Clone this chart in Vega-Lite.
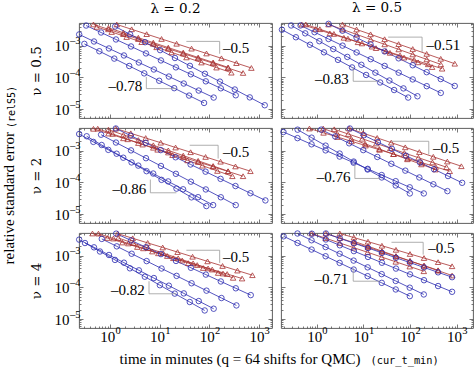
{
"$schema": "https://vega.github.io/schema/vega-lite/v6.json",
"padding": {"left": 0, "top": 0, "right": 0, "bottom": 0},
"background": "white",
"config": {
 "view": {"stroke": "#4d4d4d", "strokeWidth": 0.9},
 "axis": {"domain": false, "grid": false, "tickColor": "#555555", "tickWidth": 0.8, "labelFont": "Liberation Serif", "labelFontSize": 15, "labelColor": "#000000", "labelOverlap": false, "labelFlush": false, "titleFont": "Liberation Serif", "titleFontSize": 15, "titleFontWeight": "normal", "titleColor": "#000000"},
 "title": {"font": "DejaVu Serif", "fontSize": 13.5, "fontWeight": "normal", "color": "#000000", "offset": 5}
},
"datasets": {
"pts": [
{"p":1,"s":"M1","t":1.37,"e":4.78e-3},{"p":1,"s":"M1","t":2.73,"e":3.36e-3},{"p":1,"s":"M1","t":5.47,"e":2.36e-3},{"p":1,"s":"M1","t":10.9,"e":1.66e-3},{"p":1,"s":"M1","t":21.9,"e":1.17e-3},{"p":1,"s":"M1","t":43.8,"e":8.2e-4},{"p":1,"s":"M1","t":87.5,"e":5.76e-4},{"p":1,"s":"M1","t":175,"e":4.05e-4},{"p":1,"s":"M1","t":350,"e":2.85e-4},{"p":1,"s":"M1","t":700,"e":2.0e-4},
{"p":1,"s":"M2","t":0.465,"e":4.79e-3},{"p":1,"s":"M2","t":0.93,"e":3.36e-3},{"p":1,"s":"M2","t":1.86,"e":2.36e-3},{"p":1,"s":"M2","t":3.72,"e":1.65e-3},{"p":1,"s":"M2","t":7.44,"e":1.16e-3},{"p":1,"s":"M2","t":14.9,"e":8.15e-4},{"p":1,"s":"M2","t":29.8,"e":5.72e-4},{"p":1,"s":"M2","t":59.5,"e":4.02e-4},{"p":1,"s":"M2","t":119,"e":2.82e-4},{"p":1,"s":"M2","t":238,"e":1.98e-4},{"p":1,"s":"M2","t":476,"e":1.39e-4},
{"p":1,"s":"M3","t":0.54,"e":4.0e-3},{"p":1,"s":"M3","t":1.08,"e":2.76e-3},{"p":1,"s":"M3","t":2.16,"e":1.91e-3},{"p":1,"s":"M3","t":4.33,"e":1.32e-3},{"p":1,"s":"M3","t":8.66,"e":9.07e-4},{"p":1,"s":"M3","t":17.3,"e":6.26e-4},{"p":1,"s":"M3","t":34.6,"e":4.32e-4},{"p":1,"s":"M3","t":69.3,"e":2.98e-4},{"p":1,"s":"M3","t":139,"e":2.06e-4},{"p":1,"s":"M3","t":277,"e":1.42e-4},
{"p":1,"s":"M4","t":0.93,"e":3.74e-3},{"p":1,"s":"M4","t":1.86,"e":2.61e-3},{"p":1,"s":"M4","t":3.72,"e":1.82e-3},{"p":1,"s":"M4","t":7.44,"e":1.27e-3},{"p":1,"s":"M4","t":14.9,"e":8.84e-4},{"p":1,"s":"M4","t":29.8,"e":6.16e-4},{"p":1,"s":"M4","t":59.5,"e":4.3e-4},{"p":1,"s":"M4","t":119,"e":3.0e-4},{"p":1,"s":"M4","t":238,"e":2.09e-4},
{"p":1,"s":"Q1","t":1.27,"e":4.12e-3},{"p":1,"s":"Q1","t":2.54,"e":2.32e-3},{"p":1,"s":"Q1","t":5.08,"e":1.31e-3},{"p":1,"s":"Q1","t":10.2,"e":7.36e-4},{"p":1,"s":"Q1","t":20.3,"e":4.14e-4},{"p":1,"s":"Q1","t":40.6,"e":2.33e-4},{"p":1,"s":"Q1","t":81.3,"e":1.31e-4},{"p":1,"s":"Q1","t":163,"e":7.39e-5},{"p":1,"s":"Q1","t":325,"e":4.16e-5},{"p":1,"s":"Q1","t":650,"e":2.34e-5},{"p":1,"s":"Q1","t":1300,"e":1.32e-5},
{"p":1,"s":"Q2","t":0.331,"e":4.42e-3},{"p":1,"s":"Q2","t":0.662,"e":2.66e-3},{"p":1,"s":"Q2","t":1.32,"e":1.6e-3},{"p":1,"s":"Q2","t":2.65,"e":9.61e-4},{"p":1,"s":"Q2","t":5.3,"e":5.78e-4},{"p":1,"s":"Q2","t":10.6,"e":3.47e-4},{"p":1,"s":"Q2","t":21.2,"e":2.09e-4},{"p":1,"s":"Q2","t":42.4,"e":1.26e-4},{"p":1,"s":"Q2","t":84.8,"e":7.55e-5},{"p":1,"s":"Q2","t":170,"e":4.54e-5},{"p":1,"s":"Q2","t":339,"e":2.73e-5},
{"p":1,"s":"Q3","t":0.24,"e":2.31e-3},{"p":1,"s":"Q3","t":0.477,"e":1.38e-3},{"p":1,"s":"Q3","t":0.953,"e":8.3e-4},{"p":1,"s":"Q3","t":1.91,"e":4.98e-4},{"p":1,"s":"Q3","t":3.81,"e":2.98e-4},{"p":1,"s":"Q3","t":7.63,"e":1.79e-4},{"p":1,"s":"Q3","t":15.3,"e":1.07e-4},{"p":1,"s":"Q3","t":30.5,"e":6.43e-5},{"p":1,"s":"Q3","t":61,"e":3.85e-5},{"p":1,"s":"Q3","t":122,"e":2.31e-5},
{"p":1,"s":"Q4","t":0.305,"e":1.16e-3},{"p":1,"s":"Q4","t":0.611,"e":6.78e-4},{"p":1,"s":"Q4","t":1.22,"e":3.96e-4},{"p":1,"s":"Q4","t":2.44,"e":2.31e-4},{"p":1,"s":"Q4","t":4.89,"e":1.35e-4},{"p":1,"s":"Q4","t":9.78,"e":7.86e-5},{"p":1,"s":"Q4","t":19.6,"e":4.58e-5},{"p":1,"s":"Q4","t":39.1,"e":2.67e-5},{"p":1,"s":"Q4","t":78.2,"e":1.56e-5},

{"p":2,"s":"M1","t":3.55,"e":4.75e-3},{"p":2,"s":"M1","t":7.1,"e":3.32e-3},{"p":2,"s":"M1","t":14.2,"e":2.33e-3},{"p":2,"s":"M1","t":28.4,"e":1.63e-3},{"p":2,"s":"M1","t":56.8,"e":1.14e-3},{"p":2,"s":"M1","t":114,"e":7.97e-4},{"p":2,"s":"M1","t":227,"e":5.58e-4},{"p":2,"s":"M1","t":455,"e":3.9e-4},{"p":2,"s":"M1","t":909,"e":2.73e-4},
{"p":2,"s":"M2","t":0.476,"e":4.76e-3},{"p":2,"s":"M2","t":0.951,"e":3.45e-3},{"p":2,"s":"M2","t":1.9,"e":2.5e-3},{"p":2,"s":"M2","t":3.8,"e":1.81e-3},{"p":2,"s":"M2","t":7.61,"e":1.31e-3},{"p":2,"s":"M2","t":15.2,"e":9.51e-4},{"p":2,"s":"M2","t":30.4,"e":6.89e-4},{"p":2,"s":"M2","t":60.9,"e":4.99e-4},{"p":2,"s":"M2","t":122,"e":3.62e-4},{"p":2,"s":"M2","t":244,"e":2.62e-4},{"p":2,"s":"M2","t":487,"e":1.9e-4},
{"p":2,"s":"M3","t":0.58,"e":4.78e-3},{"p":2,"s":"M3","t":1.16,"e":3.38e-3},{"p":2,"s":"M3","t":2.32,"e":2.4e-3},{"p":2,"s":"M3","t":4.64,"e":1.7e-3},{"p":2,"s":"M3","t":9.28,"e":1.2e-3},{"p":2,"s":"M3","t":18.6,"e":8.51e-4},{"p":2,"s":"M3","t":37.1,"e":6.03e-4},{"p":2,"s":"M3","t":74.3,"e":4.27e-4},{"p":2,"s":"M3","t":149,"e":3.02e-4},{"p":2,"s":"M3","t":297,"e":2.14e-4},
{"p":2,"s":"M4","t":1.78,"e":4.78e-3},{"p":2,"s":"M4","t":3.56,"e":3.32e-3},{"p":2,"s":"M4","t":7.13,"e":2.31e-3},{"p":2,"s":"M4","t":14.3,"e":1.6e-3},{"p":2,"s":"M4","t":28.5,"e":1.12e-3},{"p":2,"s":"M4","t":57,"e":7.75e-4},{"p":2,"s":"M4","t":114,"e":5.38e-4},{"p":2,"s":"M4","t":228,"e":3.74e-4},{"p":2,"s":"M4","t":456,"e":2.6e-4},
{"p":2,"s":"Q1","t":1.78,"e":5.01e-3},{"p":2,"s":"Q1","t":3.55,"e":3.03e-3},{"p":2,"s":"Q1","t":7.1,"e":1.83e-3},{"p":2,"s":"Q1","t":14.2,"e":1.11e-3},{"p":2,"s":"Q1","t":28.4,"e":6.68e-4},{"p":2,"s":"Q1","t":56.8,"e":4.04e-4},{"p":2,"s":"Q1","t":114,"e":2.44e-4},{"p":2,"s":"Q1","t":227,"e":1.47e-4},{"p":2,"s":"Q1","t":455,"e":8.9e-5},{"p":2,"s":"Q1","t":909,"e":5.38e-5},
{"p":2,"s":"Q2","t":0.446,"e":4.45e-3},{"p":2,"s":"Q2","t":0.891,"e":2.72e-3},{"p":2,"s":"Q2","t":1.78,"e":1.66e-3},{"p":2,"s":"Q2","t":3.56,"e":1.02e-3},{"p":2,"s":"Q2","t":7.13,"e":6.21e-4},{"p":2,"s":"Q2","t":14.3,"e":3.8e-4},{"p":2,"s":"Q2","t":28.5,"e":2.32e-4},{"p":2,"s":"Q2","t":57,"e":1.42e-4},{"p":2,"s":"Q2","t":114,"e":8.67e-5},{"p":2,"s":"Q2","t":228,"e":5.3e-5},{"p":2,"s":"Q2","t":456,"e":3.24e-5},
{"p":2,"s":"Q3","t":0.281,"e":4.44e-3},{"p":2,"s":"Q3","t":0.563,"e":2.5e-3},{"p":2,"s":"Q3","t":1.13,"e":1.41e-3},{"p":2,"s":"Q3","t":2.25,"e":7.94e-4},{"p":2,"s":"Q3","t":4.5,"e":4.48e-4},{"p":2,"s":"Q3","t":9.01,"e":2.52e-4},{"p":2,"s":"Q3","t":18,"e":1.42e-4},{"p":2,"s":"Q3","t":36,"e":8.0e-5},{"p":2,"s":"Q3","t":72.1,"e":4.51e-5},{"p":2,"s":"Q3","t":144,"e":2.54e-5},
{"p":2,"s":"Q4","t":0.178,"e":3.26e-3},{"p":2,"s":"Q4","t":0.355,"e":1.88e-3},{"p":2,"s":"Q4","t":0.711,"e":1.09e-3},{"p":2,"s":"Q4","t":1.42,"e":6.26e-4},{"p":2,"s":"Q4","t":2.84,"e":3.61e-4},{"p":2,"s":"Q4","t":5.69,"e":2.08e-4},{"p":2,"s":"Q4","t":11.4,"e":1.2e-4},{"p":2,"s":"Q4","t":22.8,"e":6.94e-5},{"p":2,"s":"Q4","t":45.5,"e":4.0e-5},{"p":2,"s":"Q4","t":91,"e":2.31e-5},

{"p":3,"s":"M1","t":1.31,"e":5.12e-3},{"p":3,"s":"M1","t":2.62,"e":3.62e-3},{"p":3,"s":"M1","t":5.23,"e":2.56e-3},{"p":3,"s":"M1","t":10.5,"e":1.82e-3},{"p":3,"s":"M1","t":20.9,"e":1.28e-3},{"p":3,"s":"M1","t":41.9,"e":9.09e-4},{"p":3,"s":"M1","t":83.8,"e":6.43e-4},{"p":3,"s":"M1","t":168,"e":4.55e-4},{"p":3,"s":"M1","t":335,"e":3.22e-4},{"p":3,"s":"M1","t":670,"e":2.28e-4},
{"p":3,"s":"M2","t":0.465,"e":5.01e-3},{"p":3,"s":"M2","t":0.93,"e":3.55e-3},{"p":3,"s":"M2","t":1.86,"e":2.51e-3},{"p":3,"s":"M2","t":3.72,"e":1.78e-3},{"p":3,"s":"M2","t":7.44,"e":1.26e-3},{"p":3,"s":"M2","t":14.9,"e":8.9e-4},{"p":3,"s":"M2","t":29.8,"e":6.3e-4},{"p":3,"s":"M2","t":59.5,"e":4.46e-4},{"p":3,"s":"M2","t":119,"e":3.16e-4},{"p":3,"s":"M2","t":238,"e":2.23e-4},{"p":3,"s":"M2","t":476,"e":1.58e-4},
{"p":3,"s":"M3","t":0.567,"e":5.06e-3},{"p":3,"s":"M3","t":1.13,"e":3.45e-3},{"p":3,"s":"M3","t":2.27,"e":2.34e-3},{"p":3,"s":"M3","t":4.54,"e":1.59e-3},{"p":3,"s":"M3","t":9.07,"e":1.09e-3},{"p":3,"s":"M3","t":18.1,"e":7.38e-4},{"p":3,"s":"M3","t":36.3,"e":5.02e-4},{"p":3,"s":"M3","t":72.6,"e":3.41e-4},{"p":3,"s":"M3","t":145,"e":2.32e-4},{"p":3,"s":"M3","t":290,"e":1.58e-4},
{"p":3,"s":"M4","t":0.93,"e":4.71e-3},{"p":3,"s":"M4","t":1.86,"e":3.23e-3},{"p":3,"s":"M4","t":3.72,"e":2.21e-3},{"p":3,"s":"M4","t":7.44,"e":1.51e-3},{"p":3,"s":"M4","t":14.9,"e":1.04e-3},{"p":3,"s":"M4","t":29.8,"e":7.1e-4},{"p":3,"s":"M4","t":59.5,"e":4.86e-4},{"p":3,"s":"M4","t":119,"e":3.33e-4},{"p":3,"s":"M4","t":238,"e":2.28e-4},
{"p":3,"s":"Q1","t":1.31,"e":5.13e-3},{"p":3,"s":"Q1","t":2.62,"e":3.04e-3},{"p":3,"s":"Q1","t":5.23,"e":1.8e-3},{"p":3,"s":"Q1","t":10.5,"e":1.06e-3},{"p":3,"s":"Q1","t":20.9,"e":6.29e-4},{"p":3,"s":"Q1","t":41.9,"e":3.72e-4},{"p":3,"s":"Q1","t":83.8,"e":2.2e-4},{"p":3,"s":"Q1","t":168,"e":1.3e-4},{"p":3,"s":"Q1","t":335,"e":7.71e-5},{"p":3,"s":"Q1","t":670,"e":4.56e-5},{"p":3,"s":"Q1","t":1340,"e":2.7e-5},
{"p":3,"s":"Q2","t":0.662,"e":3.26e-3},{"p":3,"s":"Q2","t":1.32,"e":1.84e-3},{"p":3,"s":"Q2","t":2.65,"e":1.04e-3},{"p":3,"s":"Q2","t":5.3,"e":5.88e-4},{"p":3,"s":"Q2","t":10.6,"e":3.33e-4},{"p":3,"s":"Q2","t":21.2,"e":1.88e-4},{"p":3,"s":"Q2","t":42.4,"e":1.06e-4},{"p":3,"s":"Q2","t":84.8,"e":6.01e-5},{"p":3,"s":"Q2","t":170,"e":3.4e-5},{"p":3,"s":"Q2","t":339,"e":1.92e-5},
{"p":3,"s":"Q3","t":0.24,"e":3.43e-3},{"p":3,"s":"Q3","t":0.463,"e":1.93e-3},{"p":3,"s":"Q3","t":0.926,"e":1.08e-3},{"p":3,"s":"Q3","t":1.85,"e":6.09e-4},{"p":3,"s":"Q3","t":3.71,"e":3.42e-4},{"p":3,"s":"Q3","t":7.41,"e":1.92e-4},{"p":3,"s":"Q3","t":14.8,"e":1.08e-4},{"p":3,"s":"Q3","t":29.6,"e":6.08e-5},{"p":3,"s":"Q3","t":59.3,"e":3.42e-5},{"p":3,"s":"Q3","t":119,"e":1.92e-5},
{"p":3,"s":"Q4","t":0.34,"e":2.91e-3},{"p":3,"s":"Q4","t":0.68,"e":1.54e-3},{"p":3,"s":"Q4","t":1.36,"e":8.16e-4},{"p":3,"s":"Q4","t":2.72,"e":4.32e-4},{"p":3,"s":"Q4","t":5.44,"e":2.28e-4},{"p":3,"s":"Q4","t":10.9,"e":1.21e-4},{"p":3,"s":"Q4","t":21.8,"e":6.39e-5},{"p":3,"s":"Q4","t":43.6,"e":3.38e-5},{"p":3,"s":"Q4","t":87.1,"e":1.79e-5},

{"p":4,"s":"M1","t":4.93,"e":5.14e-3},{"p":4,"s":"M1","t":9.85,"e":3.64e-3},{"p":4,"s":"M1","t":19.7,"e":2.58e-3},{"p":4,"s":"M1","t":39.4,"e":1.83e-3},{"p":4,"s":"M1","t":78.8,"e":1.3e-3},{"p":4,"s":"M1","t":158,"e":9.19e-4},{"p":4,"s":"M1","t":315,"e":6.51e-4},{"p":4,"s":"M1","t":630,"e":4.61e-4},{"p":4,"s":"M1","t":1260,"e":3.27e-4},
{"p":4,"s":"M2","t":0.693,"e":5.12e-3},{"p":4,"s":"M2","t":1.39,"e":3.75e-3},{"p":4,"s":"M2","t":2.77,"e":2.75e-3},{"p":4,"s":"M2","t":5.55,"e":2.01e-3},{"p":4,"s":"M2","t":11.1,"e":1.48e-3},{"p":4,"s":"M2","t":22.2,"e":1.08e-3},{"p":4,"s":"M2","t":44.4,"e":7.92e-4},{"p":4,"s":"M2","t":88.8,"e":5.8e-4},{"p":4,"s":"M2","t":178,"e":4.25e-4},{"p":4,"s":"M2","t":355,"e":3.11e-4},{"p":4,"s":"M2","t":710,"e":2.28e-4},
{"p":4,"s":"M3","t":1.37,"e":5.13e-3},{"p":4,"s":"M3","t":2.73,"e":3.53e-3},{"p":4,"s":"M3","t":5.47,"e":2.43e-3},{"p":4,"s":"M3","t":10.9,"e":1.67e-3},{"p":4,"s":"M3","t":21.9,"e":1.15e-3},{"p":4,"s":"M3","t":43.8,"e":7.9e-4},{"p":4,"s":"M3","t":87.5,"e":5.43e-4},{"p":4,"s":"M3","t":175,"e":3.74e-4},{"p":4,"s":"M3","t":350,"e":2.57e-4},
{"p":4,"s":"M4","t":2.36,"e":4.85e-3},{"p":4,"s":"M4","t":4.71,"e":3.43e-3},{"p":4,"s":"M4","t":9.42,"e":2.43e-3},{"p":4,"s":"M4","t":18.8,"e":1.72e-3},{"p":4,"s":"M4","t":37.7,"e":1.22e-3},{"p":4,"s":"M4","t":75.4,"e":8.61e-4},{"p":4,"s":"M4","t":151,"e":6.09e-4},{"p":4,"s":"M4","t":302,"e":4.31e-4},{"p":4,"s":"M4","t":603,"e":3.05e-4},
{"p":4,"s":"Q1","t":5.1,"e":5.13e-3},{"p":4,"s":"Q1","t":10.2,"e":3.13e-3},{"p":4,"s":"Q1","t":20.4,"e":1.9e-3},{"p":4,"s":"Q1","t":40.8,"e":1.16e-3},{"p":4,"s":"Q1","t":81.7,"e":7.07e-4},{"p":4,"s":"Q1","t":163,"e":4.31e-4},{"p":4,"s":"Q1","t":327,"e":2.63e-4},{"p":4,"s":"Q1","t":653,"e":1.6e-4},{"p":4,"s":"Q1","t":1310,"e":9.75e-5},
{"p":4,"s":"Q2","t":1.24,"e":4.72e-3},{"p":4,"s":"Q2","t":2.47,"e":2.87e-3},{"p":4,"s":"Q2","t":4.94,"e":1.74e-3},{"p":4,"s":"Q2","t":9.89,"e":1.06e-3},{"p":4,"s":"Q2","t":19.8,"e":6.43e-4},{"p":4,"s":"Q2","t":39.6,"e":3.91e-4},{"p":4,"s":"Q2","t":79.1,"e":2.37e-4},{"p":4,"s":"Q2","t":158,"e":1.44e-4},{"p":4,"s":"Q2","t":316,"e":8.76e-5},{"p":4,"s":"Q2","t":633,"e":5.32e-5},
{"p":4,"s":"Q3","t":0.192,"e":3.98e-3},{"p":4,"s":"Q3","t":0.384,"e":2.54e-3},{"p":4,"s":"Q3","t":0.769,"e":1.62e-3},{"p":4,"s":"Q3","t":1.54,"e":1.04e-3},{"p":4,"s":"Q3","t":3.08,"e":6.62e-4},{"p":4,"s":"Q3","t":6.15,"e":4.23e-4},{"p":4,"s":"Q3","t":12.3,"e":2.7e-4},{"p":4,"s":"Q3","t":24.6,"e":1.72e-4},{"p":4,"s":"Q3","t":49.2,"e":1.1e-4},{"p":4,"s":"Q3","t":98.4,"e":7.03e-5},{"p":4,"s":"Q3","t":197,"e":4.49e-5},
{"p":4,"s":"Q4","t":0.386,"e":4.71e-3},{"p":4,"s":"Q4","t":0.771,"e":2.63e-3},{"p":4,"s":"Q4","t":1.54,"e":1.47e-3},{"p":4,"s":"Q4","t":3.08,"e":8.23e-4},{"p":4,"s":"Q4","t":6.17,"e":4.6e-4},{"p":4,"s":"Q4","t":12.3,"e":2.57e-4},{"p":4,"s":"Q4","t":24.7,"e":1.44e-4},{"p":4,"s":"Q4","t":49.3,"e":8.03e-5},{"p":4,"s":"Q4","t":98.7,"e":4.49e-5},

{"p":5,"s":"M1","t":1.43,"e":5.06e-3},{"p":5,"s":"M1","t":2.87,"e":3.62e-3},{"p":5,"s":"M1","t":5.73,"e":2.58e-3},{"p":5,"s":"M1","t":11.5,"e":1.85e-3},{"p":5,"s":"M1","t":22.9,"e":1.32e-3},{"p":5,"s":"M1","t":45.9,"e":9.41e-4},{"p":5,"s":"M1","t":91.8,"e":6.72e-4},{"p":5,"s":"M1","t":184,"e":4.8e-4},{"p":5,"s":"M1","t":367,"e":3.43e-4},{"p":5,"s":"M1","t":734,"e":2.45e-4},
{"p":5,"s":"M2","t":0.444,"e":5.13e-3},{"p":5,"s":"M2","t":0.889,"e":3.7e-3},{"p":5,"s":"M2","t":1.78,"e":2.66e-3},{"p":5,"s":"M2","t":3.55,"e":1.92e-3},{"p":5,"s":"M2","t":7.11,"e":1.38e-3},{"p":5,"s":"M2","t":14.2,"e":9.93e-4},{"p":5,"s":"M2","t":28.4,"e":7.15e-4},{"p":5,"s":"M2","t":56.9,"e":5.14e-4},{"p":5,"s":"M2","t":114,"e":3.7e-4},{"p":5,"s":"M2","t":228,"e":2.67e-4},{"p":5,"s":"M2","t":455,"e":1.92e-4},
{"p":5,"s":"M3","t":0.586,"e":5.08e-3},{"p":5,"s":"M3","t":1.17,"e":3.55e-3},{"p":5,"s":"M3","t":2.34,"e":2.48e-3},{"p":5,"s":"M3","t":4.69,"e":1.74e-3},{"p":5,"s":"M3","t":9.38,"e":1.21e-3},{"p":5,"s":"M3","t":18.8,"e":8.47e-4},{"p":5,"s":"M3","t":37.5,"e":5.92e-4},{"p":5,"s":"M3","t":75,"e":4.14e-4},{"p":5,"s":"M3","t":150,"e":2.89e-4},{"p":5,"s":"M3","t":300,"e":2.02e-4},
{"p":5,"s":"M4","t":1.47,"e":3.7e-3},{"p":5,"s":"M4","t":2.94,"e":2.55e-3},{"p":5,"s":"M4","t":5.89,"e":1.76e-3},{"p":5,"s":"M4","t":11.8,"e":1.22e-3},{"p":5,"s":"M4","t":23.6,"e":8.41e-4},{"p":5,"s":"M4","t":47.1,"e":5.81e-4},{"p":5,"s":"M4","t":94.2,"e":4.01e-4},{"p":5,"s":"M4","t":188,"e":2.77e-4},
{"p":5,"s":"Q1","t":1.33,"e":5.08e-3},{"p":5,"s":"Q1","t":2.66,"e":3.09e-3},{"p":5,"s":"Q1","t":5.31,"e":1.88e-3},{"p":5,"s":"Q1","t":10.6,"e":1.14e-3},{"p":5,"s":"Q1","t":21.3,"e":6.92e-4},{"p":5,"s":"Q1","t":42.5,"e":4.21e-4},{"p":5,"s":"Q1","t":85,"e":2.56e-4},{"p":5,"s":"Q1","t":170,"e":1.55e-4},{"p":5,"s":"Q1","t":340,"e":9.43e-5},{"p":5,"s":"Q1","t":680,"e":5.73e-5},
{"p":5,"s":"Q2","t":0.684,"e":3.45e-3},{"p":5,"s":"Q2","t":1.37,"e":2.01e-3},{"p":5,"s":"Q2","t":2.73,"e":1.17e-3},{"p":5,"s":"Q2","t":5.47,"e":6.85e-4},{"p":5,"s":"Q2","t":10.9,"e":3.99e-4},{"p":5,"s":"Q2","t":21.9,"e":2.33e-4},{"p":5,"s":"Q2","t":43.8,"e":1.36e-4},{"p":5,"s":"Q2","t":87.5,"e":7.93e-5},{"p":5,"s":"Q2","t":175,"e":4.63e-5},{"p":5,"s":"Q2","t":350,"e":2.7e-5},
{"p":5,"s":"Q3","t":0.24,"e":3.28e-3},{"p":5,"s":"Q3","t":0.477,"e":1.87e-3},{"p":5,"s":"Q3","t":0.955,"e":1.07e-3},{"p":5,"s":"Q3","t":1.91,"e":6.11e-4},{"p":5,"s":"Q3","t":3.82,"e":3.49e-4},{"p":5,"s":"Q3","t":7.64,"e":1.99e-4},{"p":5,"s":"Q3","t":15.3,"e":1.14e-4},{"p":5,"s":"Q3","t":30.6,"e":6.5e-5},{"p":5,"s":"Q3","t":61.1,"e":3.71e-5},{"p":5,"s":"Q3","t":122,"e":2.12e-5},
{"p":5,"s":"Q4","t":0.314,"e":2.56e-3},{"p":5,"s":"Q4","t":0.629,"e":1.38e-3},{"p":5,"s":"Q4","t":1.26,"e":7.47e-4},{"p":5,"s":"Q4","t":2.52,"e":4.04e-4},{"p":5,"s":"Q4","t":5.03,"e":2.19e-4},{"p":5,"s":"Q4","t":10.1,"e":1.18e-4},{"p":5,"s":"Q4","t":20.1,"e":6.39e-5},{"p":5,"s":"Q4","t":40.3,"e":3.46e-5},{"p":5,"s":"Q4","t":80.5,"e":1.87e-5},

{"p":6,"s":"M1","t":3.11,"e":5.14e-3},{"p":6,"s":"M1","t":6.23,"e":3.81e-3},{"p":6,"s":"M1","t":12.5,"e":2.83e-3},{"p":6,"s":"M1","t":24.9,"e":2.1e-3},{"p":6,"s":"M1","t":49.8,"e":1.56e-3},{"p":6,"s":"M1","t":99.6,"e":1.15e-3},{"p":6,"s":"M1","t":199,"e":8.56e-4},{"p":6,"s":"M1","t":399,"e":6.35e-4},{"p":6,"s":"M1","t":797,"e":4.71e-4},
{"p":6,"s":"M2","t":1.56,"e":5.14e-3},{"p":6,"s":"M2","t":3.12,"e":3.67e-3},{"p":6,"s":"M2","t":6.24,"e":2.63e-3},{"p":6,"s":"M2","t":12.5,"e":1.88e-3},{"p":6,"s":"M2","t":25,"e":1.35e-3},{"p":6,"s":"M2","t":49.9,"e":9.62e-4},{"p":6,"s":"M2","t":99.8,"e":6.88e-4},{"p":6,"s":"M2","t":200,"e":4.92e-4},{"p":6,"s":"M2","t":399,"e":3.52e-4},
{"p":6,"s":"M3","t":0.769,"e":5.14e-3},{"p":6,"s":"M3","t":1.54,"e":3.64e-3},{"p":6,"s":"M3","t":3.08,"e":2.58e-3},{"p":6,"s":"M3","t":6.15,"e":1.83e-3},{"p":6,"s":"M3","t":12.3,"e":1.3e-3},{"p":6,"s":"M3","t":24.6,"e":9.19e-4},{"p":6,"s":"M3","t":49.2,"e":6.51e-4},{"p":6,"s":"M3","t":98.4,"e":4.61e-4},{"p":6,"s":"M3","t":197,"e":3.27e-4},
{"p":6,"s":"M4","t":6.23,"e":2.9e-3},{"p":6,"s":"M4","t":12.5,"e":2.03e-3},{"p":6,"s":"M4","t":24.9,"e":1.42e-3},{"p":6,"s":"M4","t":49.8,"e":9.94e-4},{"p":6,"s":"M4","t":99.6,"e":6.96e-4},{"p":6,"s":"M4","t":199,"e":4.87e-4},{"p":6,"s":"M4","t":399,"e":3.41e-4},{"p":6,"s":"M4","t":797,"e":2.39e-4},
{"p":6,"s":"Q1","t":1.56,"e":5.14e-3},{"p":6,"s":"Q1","t":3.11,"e":3.6e-3},{"p":6,"s":"Q1","t":6.23,"e":2.53e-3},{"p":6,"s":"Q1","t":12.5,"e":1.78e-3},{"p":6,"s":"Q1","t":24.9,"e":1.25e-3},{"p":6,"s":"Q1","t":49.8,"e":8.74e-4},{"p":6,"s":"Q1","t":99.6,"e":6.13e-4},{"p":6,"s":"Q1","t":199,"e":4.31e-4},{"p":6,"s":"Q1","t":399,"e":3.02e-4},{"p":6,"s":"Q1","t":797,"e":2.12e-4},
{"p":6,"s":"Q2","t":0.778,"e":5.06e-3},{"p":6,"s":"Q2","t":1.56,"e":3.31e-3},{"p":6,"s":"Q2","t":3.11,"e":2.17e-3},{"p":6,"s":"Q2","t":6.23,"e":1.42e-3},{"p":6,"s":"Q2","t":12.5,"e":9.28e-4},{"p":6,"s":"Q2","t":24.9,"e":6.07e-4},{"p":6,"s":"Q2","t":49.8,"e":3.97e-4},{"p":6,"s":"Q2","t":99.6,"e":2.6e-4},{"p":6,"s":"Q2","t":199,"e":1.7e-4},{"p":6,"s":"Q2","t":399,"e":1.11e-4},{"p":6,"s":"Q2","t":797,"e":7.29e-5},
{"p":6,"s":"Q3","t":0.384,"e":5.13e-3},{"p":6,"s":"Q3","t":0.769,"e":3.13e-3},{"p":6,"s":"Q3","t":1.54,"e":1.91e-3},{"p":6,"s":"Q3","t":3.08,"e":1.17e-3},{"p":6,"s":"Q3","t":6.15,"e":7.11e-4},{"p":6,"s":"Q3","t":12.3,"e":4.34e-4},{"p":6,"s":"Q3","t":24.6,"e":2.65e-4},{"p":6,"s":"Q3","t":49.2,"e":1.61e-4},{"p":6,"s":"Q3","t":98.4,"e":9.85e-5},{"p":6,"s":"Q3","t":197,"e":6.01e-5},
{"p":6,"s":"Q4","t":0.193,"e":4.18e-3},{"p":6,"s":"Q4","t":0.386,"e":2.57e-3},{"p":6,"s":"Q4","t":0.771,"e":1.59e-3},{"p":6,"s":"Q4","t":1.54,"e":9.76e-4},{"p":6,"s":"Q4","t":3.08,"e":6.01e-4},{"p":6,"s":"Q4","t":6.17,"e":3.7e-4},{"p":6,"s":"Q4","t":12.3,"e":2.28e-4},{"p":6,"s":"Q4","t":24.7,"e":1.4e-4},{"p":6,"s":"Q4","t":49.3,"e":8.64e-5},{"p":6,"s":"Q4","t":98.7,"e":5.32e-5}
],
"slopes": [
{"p":1,"t":34.4,"t2":161,"e":1.39e-3,"e2":1.39e-3},{"p":1,"t":161,"t2":161,"e":1.39e-3,"e2":5.65e-4},
{"p":1,"t":5.39,"t2":5.39,"e":1.04e-4,"e2":4.44e-5},{"p":1,"t":5.39,"t2":21.7,"e":4.44e-5,"e2":4.44e-5},
{"p":2,"t":33.9,"t2":181,"e":1.9e-3,"e2":1.9e-3},{"p":2,"t":181,"t2":181,"e":1.9e-3,"e2":6.38e-4},
{"p":2,"t":6.03,"t2":6.03,"e":2.14e-4,"e2":7.57e-5},{"p":2,"t":6.03,"t2":20.7,"e":7.57e-5,"e2":7.57e-5},
{"p":3,"t":40.2,"t2":150,"e":1.51e-3,"e2":1.51e-3},{"p":3,"t":150,"t2":150,"e":1.51e-3,"e2":5.73e-4},
{"p":3,"t":6.49,"t2":6.49,"e":1.24e-4,"e2":4.71e-5},{"p":3,"t":6.49,"t2":21.7,"e":4.71e-5,"e2":4.71e-5},
{"p":4,"t":39.9,"t2":252,"e":2.02e-3,"e2":2.02e-3},{"p":4,"t":252,"t2":252,"e":2.02e-3,"e2":7.66e-4},
{"p":4,"t":6.54,"t2":6.54,"e":3.7e-4,"e2":1.34e-4},{"p":4,"t":6.54,"t2":22.5,"e":1.34e-4,"e2":1.34e-4},
{"p":5,"t":34.4,"t2":161,"e":1.51e-3,"e2":1.51e-3},{"p":5,"t":161,"t2":161,"e":1.51e-3,"e2":6.01e-4},
{"p":5,"t":6.1,"t2":6.1,"e":1.58e-4,"e2":6.31e-5},{"p":5,"t":6.1,"t2":21.7,"e":6.31e-5,"e2":6.31e-5},
{"p":6,"t":39.9,"t2":191,"e":2.7e-3,"e2":2.7e-3},{"p":6,"t":191,"t2":191,"e":2.7e-3,"e2":1.1e-3},
{"p":6,"t":6.03,"t2":6.03,"e":4.18e-4,"e2":1.58e-4},{"p":6,"t":6.03,"t2":22.5,"e":1.58e-4,"e2":1.58e-4}
],
"labels": [
{"p":1,"k":"M","t":188,"e":8.85e-4,"lab":"–0.5"},{"p":1,"k":"Q","t":4.48,"e":5.38e-5,"lab":"–0.78"},
{"p":2,"k":"M","t":224,"e":1.1e-3,"lab":"–0.51"},{"p":2,"k":"Q","t":4.86,"e":9.18e-5,"lab":"–0.83"},
{"p":3,"k":"M","t":188,"e":9.3e-4,"lab":"–0.5"},{"p":3,"k":"Q","t":5.39,"e":6.31e-5,"lab":"–0.86"},
{"p":4,"k":"M","t":312,"e":1.24e-3,"lab":"–0.5"},{"p":4,"k":"Q","t":5.28,"e":1.47e-4,"lab":"–0.76"},
{"p":5,"k":"M","t":188,"e":9.53e-4,"lab":"–0.5"},{"p":5,"k":"Q","t":4.99,"e":8.04e-5,"lab":"–0.82"},
{"p":6,"k":"M","t":244,"e":1.74e-3,"lab":"–0.5"},{"p":6,"k":"Q","t":4.71,"e":1.79e-4,"lab":"–0.71"}
]
},
"columns": 2,
"bounds": "flush",
"spacing": {"row": 10, "column": 9},
"concat": [
{"width": 193, "height": 95, "title": {"text": "λ = 0.2"},
 "layer": [
  {"data": {"name": "pts"}, "transform": [{"filter": "datum.p==1"}], "mark": {"type": "line", "strokeWidth": 0.8},
   "encoding": {
    "x": {"field": "t", "type": "quantitative", "scale": {"type": "log", "domain": [0.238, 1820], "nice": false}, "axis": {"orient": "bottom", "values": [1, 10, 100, 1000], "tickSize": -4, "labels": false, "title": null}},
    "y": {"field": "e", "type": "quantitative", "scale": {"type": "log", "domain": [5.2e-6, 5.32e-3], "nice": false}, "axis": {"orient": "left", "values": [1e-5, 1e-4, 1e-3], "tickSize": -4, "labelPadding": 14, "labelExpr": "'10'", "title": "ν = 0.5", "titleFont": "DejaVu Serif", "titleFontSize": 13.5, "titleX": -36}},
    "color": {"field": "s", "type": "nominal", "scale": {"domain": ["M1","M2","M3","M4","Q1","Q2","Q3","Q4"], "range": ["#a83232","#a83232","#a83232","#a83232","#2a2ab0","#2a2ab0","#2a2ab0","#2a2ab0"]}, "legend": null}}},
  {"data": {"name": "pts"}, "transform": [{"filter": "datum.p==1"}], "mark": {"type": "point", "filled": false, "size": 30, "strokeWidth": 0.8, "opacity": 1},
   "encoding": {
    "x": {"field": "t", "type": "quantitative", "axis": {"orient": "top", "values": [1, 10, 100, 1000], "tickSize": -4, "labels": false, "title": null}},
    "y": {"field": "e", "type": "quantitative", "axis": {"orient": "right", "values": [1e-5, 1e-4, 1e-3], "tickSize": -4, "labels": false, "title": null}},
    "color": {"field": "s", "type": "nominal", "legend": null},
    "shape": {"field": "s", "type": "nominal", "scale": {"domain": ["M1","M2","M3","M4","Q1","Q2","Q3","Q4"], "range": ["triangle-up","triangle-up","triangle-up","triangle-up","circle","circle","circle","circle"]}, "legend": null}}},
  {"data": {"name": "slopes"}, "transform": [{"filter": "datum.p==1"}], "mark": {"type": "rule", "color": "#9a9a9a", "strokeWidth": 0.8},
   "encoding": {
    "x": {"field": "t", "type": "quantitative", "axis": {"orient": "bottom", "values": [0.3,0.4,0.5,0.6,0.7,0.8,0.9,2,3,4,5,6,7,8,9,20,30,40,50,60,70,80,90,200,300,400,500,600,700,800,900], "tickSize": -2, "labels": false, "title": null}},
    "x2": {"field": "t2"},
    "y": {"field": "e", "type": "quantitative", "axis": {"orient": "left", "values": [6e-6,7e-6,8e-6,9e-6,2e-5,3e-5,4e-5,5e-5,6e-5,7e-5,8e-5,9e-5,2e-4,3e-4,4e-4,5e-4,6e-4,7e-4,8e-4,9e-4,2e-3,3e-3,4e-3,5e-3], "tickSize": -2, "labels": false, "title": "(relS5)", "titleFont": "DejaVu Sans Mono", "titleFontSize": 10, "titleX": -63, "titleY": 104.5, "titleAlign": "left", "titleBaseline": "bottom", "titleAngle": -90}},
    "y2": {"field": "e2"}}},
  {"data": {"name": "labels"}, "transform": [{"filter": "datum.p==1 && datum.k=='M'"}], "mark": {"type": "text", "align": "left", "baseline": "middle", "font": "Liberation Serif", "fontSize": 15},
   "encoding": {
    "x": {"field": "t", "type": "quantitative", "axis": {"orient": "top", "values": [0.3,0.4,0.5,0.6,0.7,0.8,0.9,2,3,4,5,6,7,8,9,20,30,40,50,60,70,80,90,200,300,400,500,600,700,800,900], "tickSize": -2, "labels": false, "title": null}},
    "y": {"field": "e", "type": "quantitative", "axis": {"orient": "right", "values": [6e-6,7e-6,8e-6,9e-6,2e-5,3e-5,4e-5,5e-5,6e-5,7e-5,8e-5,9e-5,2e-4,3e-4,4e-4,5e-4,6e-4,7e-4,8e-4,9e-4,2e-3,3e-3,4e-3,5e-3], "tickSize": -2, "labels": false, "title": null}},
    "text": {"field": "lab"}}},
  {"data": {"name": "labels"}, "transform": [{"filter": "datum.p==1 && datum.k=='Q'"}], "mark": {"type": "text", "align": "right", "baseline": "middle", "font": "Liberation Serif", "fontSize": 15},
   "encoding": {"x": {"field": "t", "type": "quantitative", "axis": null},
    "y": {"field": "e", "type": "quantitative", "axis": {"orient": "left", "values": [1e-5, 1e-4, 1e-3], "tickSize": -4, "tickOpacity": 0, "labelPadding": 3, "labelOffset": -5, "labelFontSize": 10.5, "labelExpr": "datum.value<5e-5?'–5':datum.value<5e-4?'–4':'–3'", "title": null}},
    "text": {"field": "lab"}}}
 ],
 "resolve": {"axis": {"x": "independent", "y": "independent"}}
},
{"width": 192, "height": 95, "title": {"text": "λ = 0.5"},
 "layer": [
  {"data": {"name": "pts"}, "transform": [{"filter": "datum.p==2"}], "mark": {"type": "line", "strokeWidth": 0.8},
   "encoding": {
    "x": {"field": "t", "type": "quantitative", "scale": {"type": "log", "domain": [0.17, 2240], "nice": false}, "axis": {"orient": "bottom", "values": [1, 10, 100, 1000], "tickSize": -4, "labels": false, "title": null}},
    "y": {"field": "e", "type": "quantitative", "scale": {"type": "log", "domain": [5.2e-6, 5.32e-3], "nice": false}, "axis": {"orient": "left", "values": [1e-5, 1e-4, 1e-3], "tickSize": -4, "labels": false, "title": null}},
    "color": {"field": "s", "type": "nominal", "scale": {"domain": ["M1","M2","M3","M4","Q1","Q2","Q3","Q4"], "range": ["#a83232","#a83232","#a83232","#a83232","#2a2ab0","#2a2ab0","#2a2ab0","#2a2ab0"]}, "legend": null}}},
  {"data": {"name": "pts"}, "transform": [{"filter": "datum.p==2"}], "mark": {"type": "point", "filled": false, "size": 30, "strokeWidth": 0.8, "opacity": 1},
   "encoding": {
    "x": {"field": "t", "type": "quantitative", "axis": {"orient": "top", "values": [1, 10, 100, 1000], "tickSize": -4, "labels": false, "title": null}},
    "y": {"field": "e", "type": "quantitative", "axis": {"orient": "right", "values": [1e-5, 1e-4, 1e-3], "tickSize": -4, "labels": false, "title": null}},
    "color": {"field": "s", "type": "nominal", "legend": null},
    "shape": {"field": "s", "type": "nominal", "scale": {"domain": ["M1","M2","M3","M4","Q1","Q2","Q3","Q4"], "range": ["triangle-up","triangle-up","triangle-up","triangle-up","circle","circle","circle","circle"]}, "legend": null}}},
  {"data": {"name": "slopes"}, "transform": [{"filter": "datum.p==2"}], "mark": {"type": "rule", "color": "#9a9a9a", "strokeWidth": 0.8},
   "encoding": {
    "x": {"field": "t", "type": "quantitative", "axis": {"orient": "bottom", "values": [0.2,0.3,0.4,0.5,0.6,0.7,0.8,0.9,2,3,4,5,6,7,8,9,20,30,40,50,60,70,80,90,200,300,400,500,600,700,800,900,2000], "tickSize": -2, "labels": false, "title": null}},
    "x2": {"field": "t2"},
    "y": {"field": "e", "type": "quantitative", "axis": {"orient": "left", "values": [6e-6,7e-6,8e-6,9e-6,2e-5,3e-5,4e-5,5e-5,6e-5,7e-5,8e-5,9e-5,2e-4,3e-4,4e-4,5e-4,6e-4,7e-4,8e-4,9e-4,2e-3,3e-3,4e-3,5e-3], "tickSize": -2, "labels": false, "title": null}},
    "y2": {"field": "e2"}}},
  {"data": {"name": "labels"}, "transform": [{"filter": "datum.p==2 && datum.k=='M'"}], "mark": {"type": "text", "align": "left", "baseline": "middle", "font": "Liberation Serif", "fontSize": 15},
   "encoding": {
    "x": {"field": "t", "type": "quantitative", "axis": {"orient": "top", "values": [0.2,0.3,0.4,0.5,0.6,0.7,0.8,0.9,2,3,4,5,6,7,8,9,20,30,40,50,60,70,80,90,200,300,400,500,600,700,800,900,2000], "tickSize": -2, "labels": false, "title": null}},
    "y": {"field": "e", "type": "quantitative", "axis": {"orient": "right", "values": [6e-6,7e-6,8e-6,9e-6,2e-5,3e-5,4e-5,5e-5,6e-5,7e-5,8e-5,9e-5,2e-4,3e-4,4e-4,5e-4,6e-4,7e-4,8e-4,9e-4,2e-3,3e-3,4e-3,5e-3], "tickSize": -2, "labels": false, "title": null}},
    "text": {"field": "lab"}}},
  {"data": {"name": "labels"}, "transform": [{"filter": "datum.p==2 && datum.k=='Q'"}], "mark": {"type": "text", "align": "right", "baseline": "middle", "font": "Liberation Serif", "fontSize": 15},
   "encoding": {"x": {"field": "t", "type": "quantitative", "axis": null}, "y": {"field": "e", "type": "quantitative", "axis": null}, "text": {"field": "lab"}}}
 ],
 "resolve": {"axis": {"x": "independent", "y": "independent"}}
},
{"width": 193, "height": 95,
 "layer": [
  {"data": {"name": "pts"}, "transform": [{"filter": "datum.p==3"}], "mark": {"type": "line", "strokeWidth": 0.8},
   "encoding": {
    "x": {"field": "t", "type": "quantitative", "scale": {"type": "log", "domain": [0.238, 1820], "nice": false}, "axis": {"orient": "bottom", "values": [1, 10, 100, 1000], "tickSize": -4, "labels": false, "title": null}},
    "y": {"field": "e", "type": "quantitative", "scale": {"type": "log", "domain": [5.2e-6, 5.32e-3], "nice": false}, "axis": {"orient": "left", "values": [1e-5, 1e-4, 1e-3], "tickSize": -4, "labelPadding": 14, "labelExpr": "'10'", "title": "ν = 2", "titleFont": "DejaVu Serif", "titleFontSize": 13.5, "titleX": -36}},
    "color": {"field": "s", "type": "nominal", "scale": {"domain": ["M1","M2","M3","M4","Q1","Q2","Q3","Q4"], "range": ["#a83232","#a83232","#a83232","#a83232","#2a2ab0","#2a2ab0","#2a2ab0","#2a2ab0"]}, "legend": null}}},
  {"data": {"name": "pts"}, "transform": [{"filter": "datum.p==3"}], "mark": {"type": "point", "filled": false, "size": 30, "strokeWidth": 0.8, "opacity": 1},
   "encoding": {
    "x": {"field": "t", "type": "quantitative", "axis": {"orient": "top", "values": [1, 10, 100, 1000], "tickSize": -4, "labels": false, "title": null}},
    "y": {"field": "e", "type": "quantitative", "axis": {"orient": "right", "values": [1e-5, 1e-4, 1e-3], "tickSize": -4, "labels": false, "title": null}},
    "color": {"field": "s", "type": "nominal", "legend": null},
    "shape": {"field": "s", "type": "nominal", "scale": {"domain": ["M1","M2","M3","M4","Q1","Q2","Q3","Q4"], "range": ["triangle-up","triangle-up","triangle-up","triangle-up","circle","circle","circle","circle"]}, "legend": null}}},
  {"data": {"name": "slopes"}, "transform": [{"filter": "datum.p==3"}], "mark": {"type": "rule", "color": "#9a9a9a", "strokeWidth": 0.8},
   "encoding": {
    "x": {"field": "t", "type": "quantitative", "axis": {"orient": "bottom", "values": [0.3,0.4,0.5,0.6,0.7,0.8,0.9,2,3,4,5,6,7,8,9,20,30,40,50,60,70,80,90,200,300,400,500,600,700,800,900], "tickSize": -2, "labels": false, "title": null}},
    "x2": {"field": "t2"},
    "y": {"field": "e", "type": "quantitative", "axis": {"orient": "left", "values": [6e-6,7e-6,8e-6,9e-6,2e-5,3e-5,4e-5,5e-5,6e-5,7e-5,8e-5,9e-5,2e-4,3e-4,4e-4,5e-4,6e-4,7e-4,8e-4,9e-4,2e-3,3e-3,4e-3,5e-3], "tickSize": -2, "labels": false, "title": "relative standard error", "titleX": -63, "titleY": 3.5, "titleAlign": "right", "titleBaseline": "bottom", "titleAngle": -90}},
    "y2": {"field": "e2"}}},
  {"data": {"name": "labels"}, "transform": [{"filter": "datum.p==3 && datum.k=='M'"}], "mark": {"type": "text", "align": "left", "baseline": "middle", "font": "Liberation Serif", "fontSize": 15},
   "encoding": {
    "x": {"field": "t", "type": "quantitative", "axis": {"orient": "top", "values": [0.3,0.4,0.5,0.6,0.7,0.8,0.9,2,3,4,5,6,7,8,9,20,30,40,50,60,70,80,90,200,300,400,500,600,700,800,900], "tickSize": -2, "labels": false, "title": null}},
    "y": {"field": "e", "type": "quantitative", "axis": {"orient": "right", "values": [6e-6,7e-6,8e-6,9e-6,2e-5,3e-5,4e-5,5e-5,6e-5,7e-5,8e-5,9e-5,2e-4,3e-4,4e-4,5e-4,6e-4,7e-4,8e-4,9e-4,2e-3,3e-3,4e-3,5e-3], "tickSize": -2, "labels": false, "title": null}},
    "text": {"field": "lab"}}},
  {"data": {"name": "labels"}, "transform": [{"filter": "datum.p==3 && datum.k=='Q'"}], "mark": {"type": "text", "align": "right", "baseline": "middle", "font": "Liberation Serif", "fontSize": 15},
   "encoding": {"x": {"field": "t", "type": "quantitative", "axis": null},
    "y": {"field": "e", "type": "quantitative", "axis": {"orient": "left", "values": [1e-5, 1e-4, 1e-3], "tickSize": -4, "tickOpacity": 0, "labelPadding": 3, "labelOffset": -5, "labelFontSize": 10.5, "labelExpr": "datum.value<5e-5?'–5':datum.value<5e-4?'–4':'–3'", "title": null}},
    "text": {"field": "lab"}}}
 ],
 "resolve": {"axis": {"x": "independent", "y": "independent"}}
},
{"width": 192, "height": 95,
 "layer": [
  {"data": {"name": "pts"}, "transform": [{"filter": "datum.p==4"}], "mark": {"type": "line", "strokeWidth": 0.8},
   "encoding": {
    "x": {"field": "t", "type": "quantitative", "scale": {"type": "log", "domain": [0.17, 2240], "nice": false}, "axis": {"orient": "bottom", "values": [1, 10, 100, 1000], "tickSize": -4, "labels": false, "title": null}},
    "y": {"field": "e", "type": "quantitative", "scale": {"type": "log", "domain": [5.2e-6, 5.32e-3], "nice": false}, "axis": {"orient": "left", "values": [1e-5, 1e-4, 1e-3], "tickSize": -4, "labels": false, "title": null}},
    "color": {"field": "s", "type": "nominal", "scale": {"domain": ["M1","M2","M3","M4","Q1","Q2","Q3","Q4"], "range": ["#a83232","#a83232","#a83232","#a83232","#2a2ab0","#2a2ab0","#2a2ab0","#2a2ab0"]}, "legend": null}}},
  {"data": {"name": "pts"}, "transform": [{"filter": "datum.p==4"}], "mark": {"type": "point", "filled": false, "size": 30, "strokeWidth": 0.8, "opacity": 1},
   "encoding": {
    "x": {"field": "t", "type": "quantitative", "axis": {"orient": "top", "values": [1, 10, 100, 1000], "tickSize": -4, "labels": false, "title": null}},
    "y": {"field": "e", "type": "quantitative", "axis": {"orient": "right", "values": [1e-5, 1e-4, 1e-3], "tickSize": -4, "labels": false, "title": null}},
    "color": {"field": "s", "type": "nominal", "legend": null},
    "shape": {"field": "s", "type": "nominal", "scale": {"domain": ["M1","M2","M3","M4","Q1","Q2","Q3","Q4"], "range": ["triangle-up","triangle-up","triangle-up","triangle-up","circle","circle","circle","circle"]}, "legend": null}}},
  {"data": {"name": "slopes"}, "transform": [{"filter": "datum.p==4"}], "mark": {"type": "rule", "color": "#9a9a9a", "strokeWidth": 0.8},
   "encoding": {
    "x": {"field": "t", "type": "quantitative", "axis": {"orient": "bottom", "values": [0.2,0.3,0.4,0.5,0.6,0.7,0.8,0.9,2,3,4,5,6,7,8,9,20,30,40,50,60,70,80,90,200,300,400,500,600,700,800,900,2000], "tickSize": -2, "labels": false, "title": null}},
    "x2": {"field": "t2"},
    "y": {"field": "e", "type": "quantitative", "axis": {"orient": "left", "values": [6e-6,7e-6,8e-6,9e-6,2e-5,3e-5,4e-5,5e-5,6e-5,7e-5,8e-5,9e-5,2e-4,3e-4,4e-4,5e-4,6e-4,7e-4,8e-4,9e-4,2e-3,3e-3,4e-3,5e-3], "tickSize": -2, "labels": false, "title": null}},
    "y2": {"field": "e2"}}},
  {"data": {"name": "labels"}, "transform": [{"filter": "datum.p==4 && datum.k=='M'"}], "mark": {"type": "text", "align": "left", "baseline": "middle", "font": "Liberation Serif", "fontSize": 15},
   "encoding": {
    "x": {"field": "t", "type": "quantitative", "axis": {"orient": "top", "values": [0.2,0.3,0.4,0.5,0.6,0.7,0.8,0.9,2,3,4,5,6,7,8,9,20,30,40,50,60,70,80,90,200,300,400,500,600,700,800,900,2000], "tickSize": -2, "labels": false, "title": null}},
    "y": {"field": "e", "type": "quantitative", "axis": {"orient": "right", "values": [6e-6,7e-6,8e-6,9e-6,2e-5,3e-5,4e-5,5e-5,6e-5,7e-5,8e-5,9e-5,2e-4,3e-4,4e-4,5e-4,6e-4,7e-4,8e-4,9e-4,2e-3,3e-3,4e-3,5e-3], "tickSize": -2, "labels": false, "title": null}},
    "text": {"field": "lab"}}},
  {"data": {"name": "labels"}, "transform": [{"filter": "datum.p==4 && datum.k=='Q'"}], "mark": {"type": "text", "align": "right", "baseline": "middle", "font": "Liberation Serif", "fontSize": 15},
   "encoding": {"x": {"field": "t", "type": "quantitative", "axis": null}, "y": {"field": "e", "type": "quantitative", "axis": null}, "text": {"field": "lab"}}}
 ],
 "resolve": {"axis": {"x": "independent", "y": "independent"}}
},
{"width": 193, "height": 95,
 "layer": [
  {"data": {"name": "pts"}, "transform": [{"filter": "datum.p==5"}], "mark": {"type": "line", "strokeWidth": 0.8},
   "encoding": {
    "x": {"field": "t", "type": "quantitative", "scale": {"type": "log", "domain": [0.238, 1820], "nice": false}, "axis": {"orient": "bottom", "values": [1, 10, 100, 1000], "tickSize": -4, "labelPadding": 5, "labelOffset": -2.7, "labelExpr": "'10'", "title": "time in minutes (q = 64 shifts for QMC)", "titleX": 281, "titleY": 35.5, "titleAlign": "right", "titleBaseline": "alphabetic"}},
    "y": {"field": "e", "type": "quantitative", "scale": {"type": "log", "domain": [5.2e-6, 5.32e-3], "nice": false}, "axis": {"orient": "left", "values": [1e-5, 1e-4, 1e-3], "tickSize": -4, "labelPadding": 14, "labelExpr": "'10'", "title": "ν = 4", "titleFont": "DejaVu Serif", "titleFontSize": 13.5, "titleX": -36}},
    "color": {"field": "s", "type": "nominal", "scale": {"domain": ["M1","M2","M3","M4","Q1","Q2","Q3","Q4"], "range": ["#a83232","#a83232","#a83232","#a83232","#2a2ab0","#2a2ab0","#2a2ab0","#2a2ab0"]}, "legend": null}}},
  {"data": {"name": "pts"}, "transform": [{"filter": "datum.p==5"}], "mark": {"type": "point", "filled": false, "size": 30, "strokeWidth": 0.8, "opacity": 1},
   "encoding": {
    "x": {"field": "t", "type": "quantitative", "axis": {"orient": "top", "values": [1, 10, 100, 1000], "tickSize": -4, "labels": false, "title": null}},
    "y": {"field": "e", "type": "quantitative", "axis": {"orient": "right", "values": [1e-5, 1e-4, 1e-3], "tickSize": -4, "labels": false, "title": null}},
    "color": {"field": "s", "type": "nominal", "legend": null},
    "shape": {"field": "s", "type": "nominal", "scale": {"domain": ["M1","M2","M3","M4","Q1","Q2","Q3","Q4"], "range": ["triangle-up","triangle-up","triangle-up","triangle-up","circle","circle","circle","circle"]}, "legend": null}}},
  {"data": {"name": "slopes"}, "transform": [{"filter": "datum.p==5"}], "mark": {"type": "rule", "color": "#9a9a9a", "strokeWidth": 0.8},
   "encoding": {
    "x": {"field": "t", "type": "quantitative", "axis": {"orient": "bottom", "values": [0.3,0.4,0.5,0.6,0.7,0.8,0.9,2,3,4,5,6,7,8,9,20,30,40,50,60,70,80,90,200,300,400,500,600,700,800,900], "tickSize": -2, "labels": false, "title": null}},
    "x2": {"field": "t2"},
    "y": {"field": "e", "type": "quantitative", "axis": {"orient": "left", "values": [6e-6,7e-6,8e-6,9e-6,2e-5,3e-5,4e-5,5e-5,6e-5,7e-5,8e-5,9e-5,2e-4,3e-4,4e-4,5e-4,6e-4,7e-4,8e-4,9e-4,2e-3,3e-3,4e-3,5e-3], "tickSize": -2, "labels": false, "title": null}},
    "y2": {"field": "e2"}}},
  {"data": {"name": "labels"}, "transform": [{"filter": "datum.p==5 && datum.k=='M'"}], "mark": {"type": "text", "align": "left", "baseline": "middle", "font": "Liberation Serif", "fontSize": 15},
   "encoding": {
    "x": {"field": "t", "type": "quantitative", "axis": {"orient": "top", "values": [0.3,0.4,0.5,0.6,0.7,0.8,0.9,2,3,4,5,6,7,8,9,20,30,40,50,60,70,80,90,200,300,400,500,600,700,800,900], "tickSize": -2, "labels": false, "title": null}},
    "y": {"field": "e", "type": "quantitative", "axis": {"orient": "right", "values": [6e-6,7e-6,8e-6,9e-6,2e-5,3e-5,4e-5,5e-5,6e-5,7e-5,8e-5,9e-5,2e-4,3e-4,4e-4,5e-4,6e-4,7e-4,8e-4,9e-4,2e-3,3e-3,4e-3,5e-3], "tickSize": -2, "labels": false, "title": null}},
    "text": {"field": "lab"}}},
  {"data": {"name": "labels"}, "transform": [{"filter": "datum.p==5 && datum.k=='Q'"}], "mark": {"type": "text", "align": "right", "baseline": "middle", "font": "Liberation Serif", "fontSize": 15},
   "encoding": {
    "x": {"field": "t", "type": "quantitative", "axis": {"orient": "bottom", "values": [1, 10, 100, 1000], "tickSize": -4, "tickOpacity": 0, "labelPadding": 1, "labelOffset": 5, "labelAlign": "left", "labelFontSize": 10.5, "labelExpr": "datum.value==1?'0':datum.value==10?'1':datum.value==100?'2':'3'", "title": null}},
    "y": {"field": "e", "type": "quantitative", "axis": {"orient": "left", "values": [1e-5, 1e-4, 1e-3], "tickSize": -4, "tickOpacity": 0, "labelPadding": 3, "labelOffset": -5, "labelFontSize": 10.5, "labelExpr": "datum.value<5e-5?'–5':datum.value<5e-4?'–4':'–3'", "title": null}},
    "text": {"field": "lab"}}}
 ],
 "resolve": {"axis": {"x": "independent", "y": "independent"}}
},
{"width": 192, "height": 95,
 "layer": [
  {"data": {"name": "pts"}, "transform": [{"filter": "datum.p==6"}], "mark": {"type": "line", "strokeWidth": 0.8},
   "encoding": {
    "x": {"field": "t", "type": "quantitative", "scale": {"type": "log", "domain": [0.17, 2240], "nice": false}, "axis": {"orient": "bottom", "values": [1, 10, 100, 1000], "tickSize": -4, "labelPadding": 5, "labelOffset": -2.7, "labelExpr": "'10'", "title": "(cur_t_min)", "titleFont": "DejaVu Sans Mono", "titleFontSize": 10.3, "titleX": 89, "titleY": 35.5, "titleAlign": "left", "titleBaseline": "alphabetic"}},
    "y": {"field": "e", "type": "quantitative", "scale": {"type": "log", "domain": [5.2e-6, 5.32e-3], "nice": false}, "axis": {"orient": "left", "values": [1e-5, 1e-4, 1e-3], "tickSize": -4, "labels": false, "title": null}},
    "color": {"field": "s", "type": "nominal", "scale": {"domain": ["M1","M2","M3","M4","Q1","Q2","Q3","Q4"], "range": ["#a83232","#a83232","#a83232","#a83232","#2a2ab0","#2a2ab0","#2a2ab0","#2a2ab0"]}, "legend": null}}},
  {"data": {"name": "pts"}, "transform": [{"filter": "datum.p==6"}], "mark": {"type": "point", "filled": false, "size": 30, "strokeWidth": 0.8, "opacity": 1},
   "encoding": {
    "x": {"field": "t", "type": "quantitative", "axis": {"orient": "top", "values": [1, 10, 100, 1000], "tickSize": -4, "labels": false, "title": null}},
    "y": {"field": "e", "type": "quantitative", "axis": {"orient": "right", "values": [1e-5, 1e-4, 1e-3], "tickSize": -4, "labels": false, "title": null}},
    "color": {"field": "s", "type": "nominal", "legend": null},
    "shape": {"field": "s", "type": "nominal", "scale": {"domain": ["M1","M2","M3","M4","Q1","Q2","Q3","Q4"], "range": ["triangle-up","triangle-up","triangle-up","triangle-up","circle","circle","circle","circle"]}, "legend": null}}},
  {"data": {"name": "slopes"}, "transform": [{"filter": "datum.p==6"}], "mark": {"type": "rule", "color": "#9a9a9a", "strokeWidth": 0.8},
   "encoding": {
    "x": {"field": "t", "type": "quantitative", "axis": {"orient": "bottom", "values": [0.2,0.3,0.4,0.5,0.6,0.7,0.8,0.9,2,3,4,5,6,7,8,9,20,30,40,50,60,70,80,90,200,300,400,500,600,700,800,900,2000], "tickSize": -2, "labels": false, "title": null}},
    "x2": {"field": "t2"},
    "y": {"field": "e", "type": "quantitative", "axis": {"orient": "left", "values": [6e-6,7e-6,8e-6,9e-6,2e-5,3e-5,4e-5,5e-5,6e-5,7e-5,8e-5,9e-5,2e-4,3e-4,4e-4,5e-4,6e-4,7e-4,8e-4,9e-4,2e-3,3e-3,4e-3,5e-3], "tickSize": -2, "labels": false, "title": null}},
    "y2": {"field": "e2"}}},
  {"data": {"name": "labels"}, "transform": [{"filter": "datum.p==6 && datum.k=='M'"}], "mark": {"type": "text", "align": "left", "baseline": "middle", "font": "Liberation Serif", "fontSize": 15},
   "encoding": {
    "x": {"field": "t", "type": "quantitative", "axis": {"orient": "top", "values": [0.2,0.3,0.4,0.5,0.6,0.7,0.8,0.9,2,3,4,5,6,7,8,9,20,30,40,50,60,70,80,90,200,300,400,500,600,700,800,900,2000], "tickSize": -2, "labels": false, "title": null}},
    "y": {"field": "e", "type": "quantitative", "axis": {"orient": "right", "values": [6e-6,7e-6,8e-6,9e-6,2e-5,3e-5,4e-5,5e-5,6e-5,7e-5,8e-5,9e-5,2e-4,3e-4,4e-4,5e-4,6e-4,7e-4,8e-4,9e-4,2e-3,3e-3,4e-3,5e-3], "tickSize": -2, "labels": false, "title": null}},
    "text": {"field": "lab"}}},
  {"data": {"name": "labels"}, "transform": [{"filter": "datum.p==6 && datum.k=='Q'"}], "mark": {"type": "text", "align": "right", "baseline": "middle", "font": "Liberation Serif", "fontSize": 15},
   "encoding": {
    "x": {"field": "t", "type": "quantitative", "axis": {"orient": "bottom", "values": [1, 10, 100, 1000], "tickSize": -4, "tickOpacity": 0, "labelPadding": 1, "labelOffset": 5, "labelAlign": "left", "labelFontSize": 10.5, "labelExpr": "datum.value==1?'0':datum.value==10?'1':datum.value==100?'2':'3'", "title": null}},
    "y": {"field": "e", "type": "quantitative", "axis": null},
    "text": {"field": "lab"}}}
 ],
 "resolve": {"axis": {"x": "independent", "y": "independent"}}
}
]
}
